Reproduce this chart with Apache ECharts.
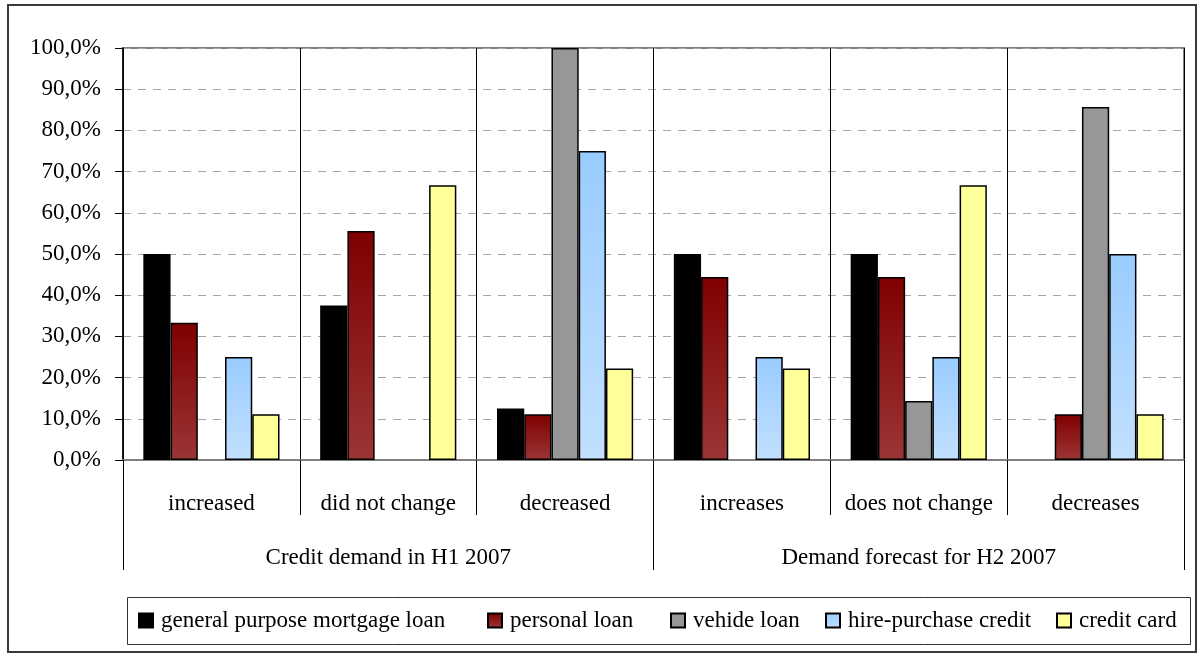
<!DOCTYPE html>
<html>
<head>
<meta charset="utf-8">
<script src="https://cdn.jsdelivr.net/npm/echarts@6/dist/echarts.min.js"></script>
<style>
  html, body { margin: 0; padding: 0; background: #fff; }
  #chart { width: 1200px; height: 662px; }
</style>
</head>
<body>
<div id="chart"></div>
<script>
// Survey answers per category (share of banks, %)
const categories = ['increased', 'did not change', 'decreased', 'increases', 'does not change', 'decreases'];
const groups = ['Credit demand in H1 2007', 'Demand forecast for H2 2007'];
const seriesNames = ['general purpose mortgage loan', 'personal loan', 'vehide loan', 'hire-purchase credit', 'credit card'];

const mortgage = [50.0, 37.5, 12.5, 50.0, 50.0, 0];
const personal = [33.3, 55.6, 11.1, 44.4, 44.4, 11.1];
const vehicle = [0, 0, 100.0, 0, 14.3, 85.7];
const hirePurchase = [25.0, 0, 75.0, 25.0, 25.0, 50.0];
const creditCard = [11.1, 66.7, 22.2, 22.2, 66.7, 11.1];

const yTicks = { min: 0, max: 100, interval: 10 };

const FONT = '"Liberation Serif", "DejaVu Serif", serif';
const FONT_SIZE = 23;

// left edge of each legend entry inside the legend box
const legendLefts = [138, 487, 670, 825, 1056];

function vGrad(top, bottom) {
  return new echarts.graphic.LinearGradient(0, 0, 0, 1, [
    { offset: 0, color: top },
    { offset: 1, color: bottom }
  ]);
}

const fills = [
  '#000000',
  vGrad('#7f0000', '#9b3535'),
  '#979797',
  vGrad('#99ccff', '#c2e0ff'),
  '#ffff99'
];

const values = [mortgage, personal, vehicle, hirePurchase, creditCard];

const chart = echarts.init(document.getElementById('chart'), null, { renderer: 'canvas' });

chart.setOption({
  animation: false,
  backgroundColor: '#ffffff',
  textStyle: { fontFamily: FONT },
  grid: {
    left: 123, right: 16, top: 48, bottom: 202,
    show: true, borderColor: '#808080', borderWidth: 2,
    containLabel: false
  },
  graphic: [{
    type: 'rect',
    shape: { x: 8, y: 5, width: 1188, height: 647 },
    style: { fill: 'none', stroke: '#3a3a3a', lineWidth: 2 },
    silent: true
  }, {
    // legend frame
    type: 'rect',
    shape: { x: 127.5, y: 597.5, width: 1063, height: 47 },
    style: { fill: 'none', stroke: '#333333', lineWidth: 1 },
    silent: true,
    z: -1
  }],
  legend: seriesNames.map((name, i) => ({
    left: legendLefts[i], top: 609,
    padding: 0,
    itemWidth: 14, itemHeight: 14,
    icon: 'rect',
    textStyle: { fontFamily: FONT, fontSize: FONT_SIZE, color: '#000', padding: [0, 0, 0, 3] },
    data: [name]
  })),
  xAxis: [{
    type: 'category',
    data: categories,
    position: 'bottom',
    axisLine: { show: true, lineStyle: { color: '#808080', width: 2 } },
    axisTick: { show: true, interval: 0, length: 55, lineStyle: { color: '#000', width: 1 } },
    splitLine: { show: true, interval: 0, lineStyle: { color: '#000', width: 1 } },
    axisLabel: { interval: 0, margin: 32, fontFamily: FONT, fontSize: FONT_SIZE, color: '#000' }
  }, {
    type: 'category',
    data: groups,
    position: 'bottom',
    axisLine: { show: false },
    axisTick: { show: true, interval: 0, length: 110, lineStyle: { color: '#000', width: 1 } },
    splitLine: { show: false },
    axisLabel: { interval: 0, margin: 86, fontFamily: FONT, fontSize: FONT_SIZE, color: '#000' }
  }],
  yAxis: {
    type: 'value',
    min: yTicks.min, max: yTicks.max, interval: yTicks.interval,
    axisLine: { show: true, lineStyle: { color: '#000', width: 1.5 } },
    axisTick: { show: true, inside: false, length: 8, lineStyle: { color: '#000', width: 1 } },
    splitLine: { show: true, lineStyle: { color: '#a6a6a6', type: [8, 7], width: 1 } },
    axisLabel: {
      margin: 22, fontFamily: FONT, fontSize: FONT_SIZE, color: '#000',
      formatter: v => v.toFixed(1).replace('.', ',') + '%'
    }
  },
  series: seriesNames.map((name, i) => ({
    name,
    type: 'bar',
    xAxisIndex: 0,
    // a zero share leaves the slot empty
    data: values[i].map(v => (v === 0 ? null : v)),
    barGap: '0%',
    barCategoryGap: '23%',
    itemStyle: { color: fills[i], borderColor: '#000', borderWidth: 1.5 }
  }))
});
</script>
</body>
</html>
